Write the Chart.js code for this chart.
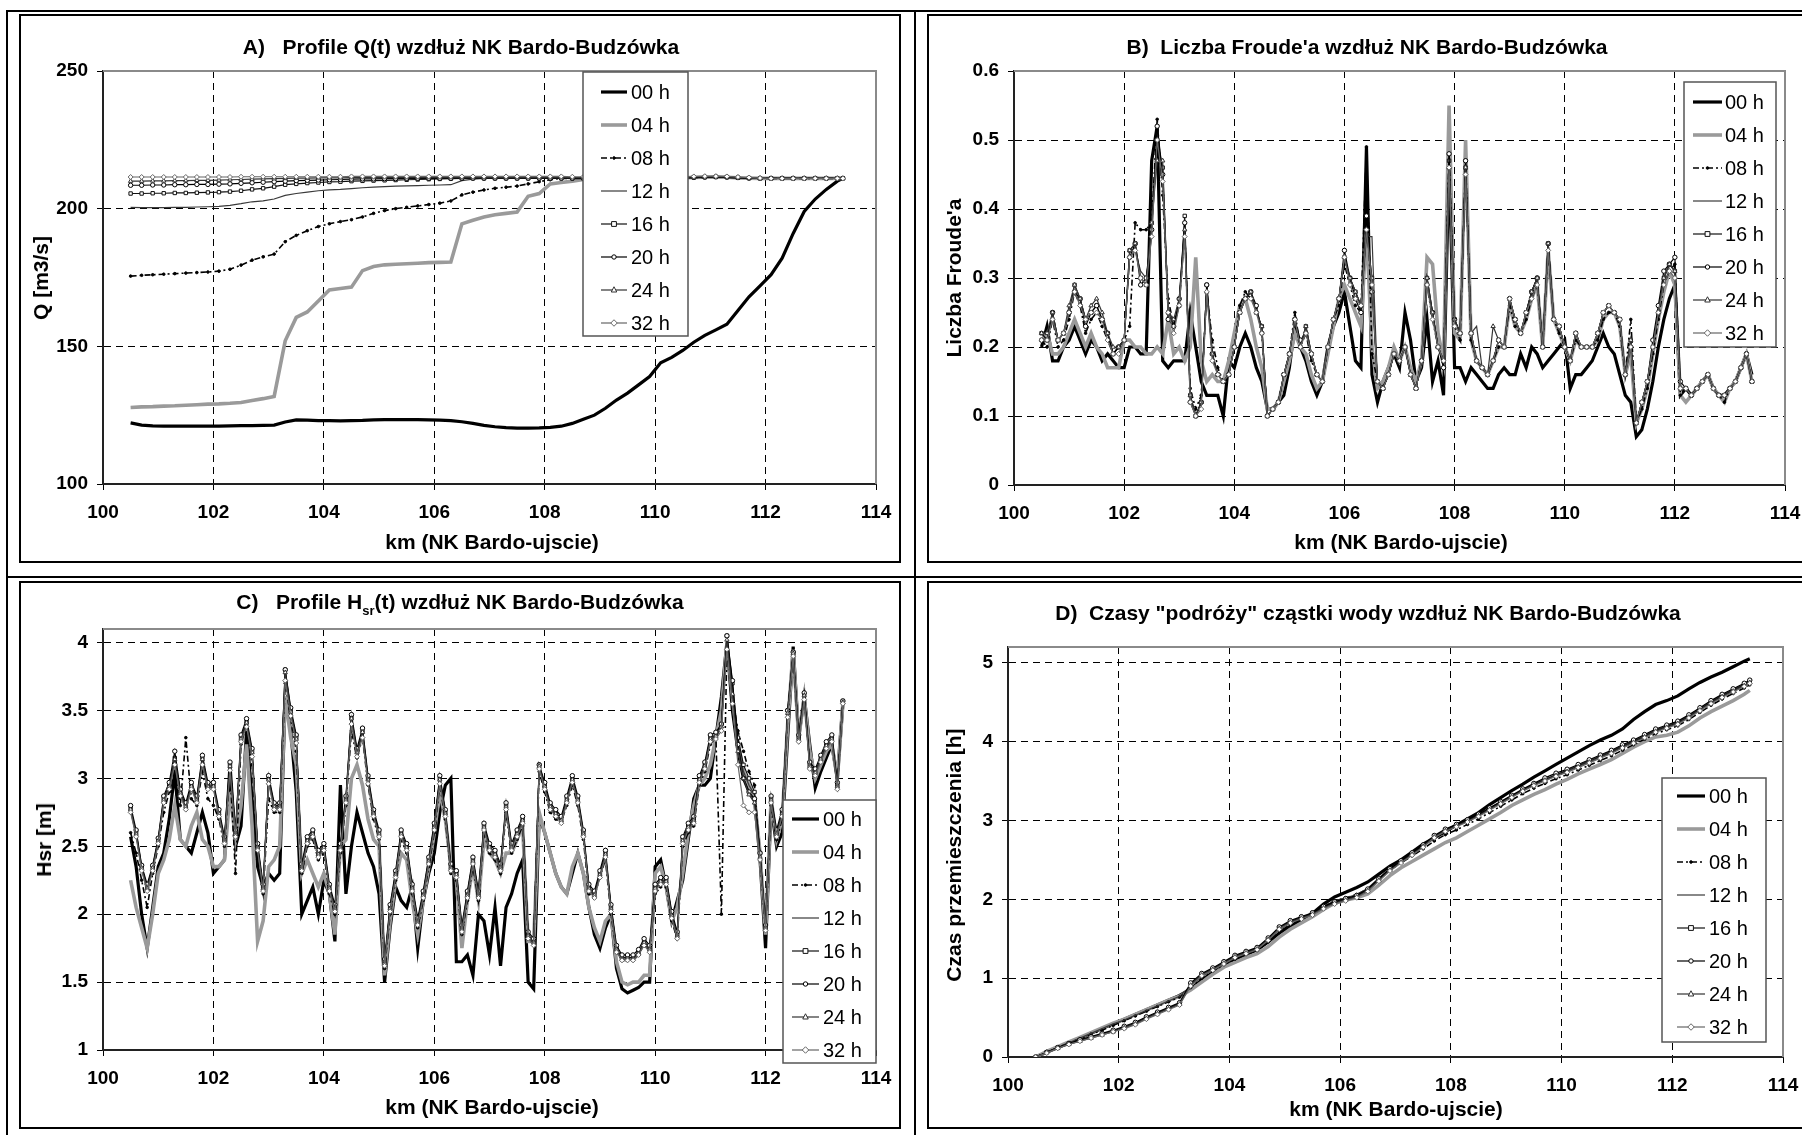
<!DOCTYPE html>
<html>
<head>
<meta charset="utf-8">
<script src="https://cdn.jsdelivr.net/npm/chart.js@4/dist/chart.umd.min.js"></script>
<style>
body{margin:0;background:#fff;}
#page{position:relative;width:1802px;height:1135px;overflow:hidden;background:#fff;font-family:"Liberation Sans",Arial,sans-serif;color:#000;}
.frame{position:absolute;border:2px solid #000;box-sizing:border-box;}
.bar{position:absolute;background:#000;}
canvas{position:absolute;}
.t{position:absolute;font-weight:bold;font-size:21px;white-space:pre;transform:translate(-50%,-50%);}
.yt{transform:translate(-50%,-50%) rotate(-90deg);}
sub{font-size:13px;}
</style>
</head>
<body>
<div id="page">
  <div class="frame" style="left:6px;top:10px;width:1806px;height:1140px;"></div>
  <div class="bar" style="left:914px;top:10px;width:2px;height:1130px;"></div>
  <div class="bar" style="left:6px;top:576px;width:1800px;height:2px;"></div>
  <div class="frame" style="left:19px;top:14px;width:882px;height:549px;"></div>
  <div class="frame" style="left:927px;top:14px;width:880px;height:549px;"></div>
  <div class="frame" style="left:19px;top:581px;width:882px;height:548px;"></div>
  <div class="frame" style="left:927px;top:581px;width:880px;height:548px;"></div>

  <canvas id="cA" width="878" height="546" style="left:21px;top:16px;"></canvas>
  <canvas id="cB" width="873" height="546" style="left:929px;top:16px;"></canvas>
  <canvas id="cC" width="878" height="544" style="left:21px;top:583px;"></canvas>
  <canvas id="cD" width="873" height="544" style="left:929px;top:583px;"></canvas>

  <div class="t" style="left:461px;top:47px;">A)   Profile Q(t) wzdłuż NK Bardo-Budzówka</div>
  <div class="t" style="left:1367px;top:47px;">B)  Liczba Froude'a wzdłuż NK Bardo-Budzówka</div>
  <div class="t" style="left:460px;top:604px;">C)   Profile H<sub>sr</sub>(t) wzdłuż NK Bardo-Budzówka</div>
  <div class="t" style="left:1368px;top:613px;">D)  Czasy "podróży" cząstki wody wzdłuż NK Bardo-Budzówka</div>

  <div class="t yt" style="left:41px;top:278px;">Q [m3/s]</div>
  <div class="t yt" style="left:954px;top:278px;">Liczba Froude'a</div>
  <div class="t yt" style="left:44px;top:840px;">Hsr [m]</div>
  <div class="t yt" style="left:954px;top:855px;">Czas przemieszczenia [h]</div>

  <div class="t" style="left:492px;top:542px;">km (NK Bardo-ujscie)</div>
  <div class="t" style="left:1401px;top:542px;">km (NK Bardo-ujscie)</div>
  <div class="t" style="left:492px;top:1107px;">km (NK Bardo-ujscie)</div>
  <div class="t" style="left:1396px;top:1109px;">km (NK Bardo-ujscie)</div>
</div>
<script>
// ---- km positions ----
const kmCoarse = [
  100.5,100.7,100.9,101.1,101.3,101.5,101.7,101.9,102.1,102.3,
  102.5,102.7,102.9,103.1,103.3,103.5,103.7,103.9,104.1,104.3,
  104.5,104.7,104.9,105.1,105.3,105.5,105.7,105.9,106.1,106.3,
  106.5,106.7,106.9,107.1,107.3,107.5,107.7,107.9,108.1,108.3,
  108.5,108.7,108.9,109.1,109.3,109.5,109.7,109.9,110.1,110.3,
  110.5,110.7,110.9,111.1,111.3,111.5,111.7,111.9,112.1,112.3,
  112.5,112.7,112.9,113.1,113.3,113.4];
const kmFine = [
  100.5,100.6,100.7,100.8,100.9,101.0,101.1,101.2,101.3,101.4,
  101.5,101.6,101.7,101.8,101.9,102.0,102.1,102.2,102.3,102.4,
  102.5,102.6,102.7,102.8,102.9,103.0,103.1,103.2,103.3,103.4,
  103.5,103.6,103.7,103.8,103.9,104.0,104.1,104.2,104.3,104.4,
  104.5,104.6,104.7,104.8,104.9,105.0,105.1,105.2,105.3,105.4,
  105.5,105.6,105.7,105.8,105.9,106.0,106.1,106.2,106.3,106.4,
  106.5,106.6,106.7,106.8,106.9,107.0,107.1,107.2,107.3,107.4,
  107.5,107.6,107.7,107.8,107.9,108.0,108.1,108.2,108.3,108.4,
  108.5,108.6,108.7,108.8,108.9,109.0,109.1,109.2,109.3,109.4,
  109.5,109.6,109.7,109.8,109.9,110.0,110.1,110.2,110.3,110.4,
  110.5,110.6,110.7,110.8,110.9,111.0,111.1,111.2,111.3,111.4,
  111.5,111.6,111.7,111.8,111.9,112.0,112.1,112.2,112.3,112.4,
  112.5,112.6,112.7,112.8,112.9,113.0,113.1,113.2,113.3,113.4];

// ---- A) Q [m3/s] ----
const q00 = [122.2,121.4,121.1,121.0,121.0,121.0,121.0,121.0,121.0,121.1,
  121.2,121.2,121.3,121.4,122.5,123.3,123.2,123.0,123.0,122.9,
  123.0,123.1,123.3,123.4,123.4,123.4,123.4,123.3,123.2,123.0,
  122.6,122.0,121.3,120.8,120.5,120.3,120.3,120.4,120.6,121.0,
  122.0,123.5,125.0,127.5,130.5,133.0,136.0,139.0,144.0,146.0,
  148.5,151.5,154.0,156.0,158.0,163.0,168.0,172.0,176.0,182.0,
  191.0,199.0,203.5,207.0,210.0,211.0];
const q04 = [127.8,128.0,128.1,128.3,128.4,128.6,128.8,129.0,129.1,129.3,
  129.6,130.3,131.0,131.8,152.0,160.5,162.5,166.5,170.5,171.0,
  171.5,177.5,179.0,179.6,179.8,180.0,180.2,180.4,180.5,180.6,
  194.5,195.8,197.0,197.8,198.3,198.8,204.5,205.5,209.0,209.5,
  210.0,210.6,211.0,211.0,211.0,211.0,211.0,211.0,211.0,211.0,
  211.2,211.3,211.4,211.5,211.4,211.2,211.1,211.0,211.0,211.0,
  211.0,211.0,211.0,211.0,211.0,211.0];
const q08 = [175.5,175.8,176.0,176.2,176.4,176.6,176.8,177.0,177.3,178.0,
  179.5,181.3,182.5,183.5,188.0,190.3,192.0,193.5,194.5,195.3,
  196.0,197.0,198.3,199.3,200.0,200.5,201.0,201.5,202.0,202.8,
  205.0,206.0,206.8,207.4,207.8,208.2,209.0,209.8,210.5,211.0,
  211.0,211.0,211.0,211.0,211.0,211.0,211.0,211.0,211.0,211.0,
  211.2,211.3,211.4,211.5,211.4,211.2,211.1,211.0,211.0,211.0,
  211.0,211.0,211.0,211.0,211.0,211.0];
const q12 = [200.5,200.4,200.4,200.4,200.5,200.5,200.6,200.7,200.8,201.2,
  201.8,202.5,202.8,203.5,204.8,205.5,206.0,206.5,206.8,207.0,
  207.3,207.6,207.8,208.0,208.2,208.3,208.4,208.5,208.6,208.7,
  210.2,210.7,211.0,211.0,211.0,211.0,211.0,211.0,211.0,211.0,
  211.0,211.0,211.0,211.0,211.0,211.0,211.0,211.0,211.0,211.0,
  211.2,211.3,211.4,211.5,211.4,211.2,211.1,211.0,211.0,211.0,
  211.0,211.0,211.0,211.0,211.0,211.0];
const q16 = [205.5,205.5,205.6,205.6,205.7,205.7,205.8,205.9,206.0,206.2,
  206.5,207.0,207.4,208.0,208.7,209.0,209.3,209.5,209.7,209.8,
  210.0,210.1,210.2,210.3,210.4,210.5,210.6,210.7,210.8,210.9,
  211.0,211.0,211.0,211.0,211.0,211.0,211.0,211.0,211.0,211.0,
  211.0,211.0,211.0,211.0,211.0,211.0,211.0,211.0,211.0,211.0,
  211.2,211.3,211.4,211.5,211.4,211.2,211.1,211.0,211.0,211.0,
  211.0,211.0,211.0,211.0,211.0,211.0];
const q20 = [208.5,208.5,208.6,208.6,208.7,208.7,208.8,208.8,208.9,209.0,
  209.2,209.4,209.6,209.8,210.0,210.2,210.3,210.4,210.5,210.6,
  210.7,210.8,210.8,210.9,210.9,211.0,211.0,211.0,211.0,211.0,
  211.1,211.1,211.1,211.1,211.1,211.1,211.1,211.1,211.1,211.1,
  211.1,211.1,211.1,211.1,211.1,211.1,211.1,211.1,211.1,211.1,
  211.3,211.4,211.5,211.6,211.5,211.3,211.1,211.0,211.0,211.0,
  211.0,211.0,211.0,211.0,211.0,211.0];
const q24 = [210.0,210.0,210.1,210.1,210.2,210.2,210.3,210.3,210.4,210.5,
  210.6,210.7,210.8,210.9,211.0,211.1,211.1,211.2,211.2,211.2,
  211.3,211.3,211.3,211.3,211.3,211.3,211.3,211.3,211.3,211.3,
  211.3,211.3,211.3,211.3,211.3,211.3,211.3,211.3,211.3,211.3,
  211.3,211.3,211.3,211.3,211.3,211.3,211.3,211.3,211.3,211.3,
  211.4,211.5,211.6,211.7,211.6,211.4,211.2,211.1,211.0,211.0,
  211.0,211.0,211.0,211.0,211.0,211.0];
const q32 = [211.5,211.5,211.5,211.5,211.5,211.5,211.5,211.5,211.5,211.5,
  211.6,211.6,211.6,211.6,211.6,211.6,211.6,211.6,211.6,211.6,
  211.7,211.7,211.7,211.7,211.7,211.7,211.7,211.7,211.7,211.7,
  211.7,211.7,211.7,211.7,211.7,211.7,211.7,211.7,211.7,211.7,
  211.6,211.6,211.6,211.6,211.6,211.6,211.6,211.6,211.6,211.6,
  211.6,211.7,211.8,211.8,211.7,211.5,211.3,211.1,211.0,211.0,
  211.0,211.0,211.0,211.0,211.0,211.0];

// ---- B) Froude number ----
const fr00 = [0.20,0.23,0.18,0.18,0.20,0.21,0.23,0.21,0.19,0.21,
  0.20,0.18,0.19,0.18,0.17,0.17,0.20,0.20,0.19,0.19,
  0.47,0.52,0.18,0.17,0.18,0.18,0.18,0.25,0.20,0.15,
  0.13,0.13,0.13,0.10,0.18,0.17,0.20,0.22,0.20,0.17,
  0.15,0.11,0.11,0.12,0.13,0.17,0.23,0.20,0.18,0.15,
  0.13,0.15,0.20,0.23,0.25,0.28,0.23,0.18,0.17,0.49,
  0.16,0.12,0.15,0.17,0.19,0.17,0.25,0.21,0.15,0.17,
  0.24,0.15,0.18,0.13,0.47,0.17,0.17,0.15,0.17,0.16,
  0.15,0.14,0.14,0.16,0.17,0.16,0.16,0.19,0.17,0.20,
  0.19,0.17,0.18,0.19,0.20,0.21,0.14,0.16,0.16,0.17,
  0.18,0.20,0.22,0.20,0.19,0.16,0.13,0.12,0.07,0.08,
  0.11,0.15,0.20,0.24,0.27,0.29,0.13,0.14,0.13,0.14,
  0.15,0.16,0.14,0.13,0.13,0.14,0.15,0.17,0.19,0.16];
const fr04 = [0.21,0.22,0.19,0.19,0.20,0.22,0.24,0.22,0.20,0.22,
  0.20,0.19,0.17,0.17,0.17,0.21,0.21,0.20,0.20,0.19,
  0.19,0.20,0.19,0.24,0.19,0.20,0.18,0.20,0.33,0.18,
  0.15,0.16,0.15,0.15,0.18,0.22,0.26,0.27,0.24,0.20,
  0.17,0.11,0.11,0.12,0.15,0.18,0.22,0.20,0.19,0.16,
  0.14,0.15,0.19,0.23,0.27,0.29,0.27,0.25,0.23,0.37,
  0.20,0.14,0.15,0.17,0.20,0.18,0.20,0.17,0.15,0.18,
  0.33,0.32,0.22,0.18,0.55,0.22,0.21,0.50,0.21,0.18,
  0.17,0.16,0.18,0.20,0.20,0.26,0.23,0.22,0.24,0.27,
  0.29,0.20,0.34,0.24,0.22,0.20,0.18,0.21,0.20,0.20,
  0.20,0.21,0.24,0.25,0.25,0.23,0.16,0.19,0.09,0.11,
  0.14,0.19,0.24,0.28,0.31,0.29,0.13,0.12,0.13,0.14,
  0.15,0.16,0.14,0.13,0.12,0.14,0.15,0.17,0.19,0.15];
const fr08 = [0.21,0.20,0.24,0.20,0.21,0.24,0.28,0.26,0.22,0.24,
  0.25,0.23,0.21,0.19,0.20,0.21,0.23,0.38,0.37,0.37,
  0.38,0.53,0.42,0.27,0.23,0.26,0.37,0.14,0.11,0.13,
  0.28,0.21,0.17,0.15,0.16,0.20,0.26,0.28,0.27,0.26,
  0.22,0.10,0.11,0.12,0.16,0.19,0.25,0.20,0.22,0.18,
  0.16,0.15,0.20,0.24,0.26,0.32,0.29,0.26,0.25,0.49,
  0.19,0.15,0.14,0.16,0.19,0.18,0.20,0.16,0.14,0.18,
  0.29,0.24,0.20,0.18,0.48,0.23,0.21,0.47,0.21,0.18,
  0.17,0.16,0.18,0.20,0.20,0.26,0.23,0.22,0.24,0.27,
  0.29,0.20,0.34,0.24,0.22,0.20,0.18,0.21,0.20,0.20,
  0.20,0.21,0.24,0.25,0.25,0.23,0.16,0.24,0.09,0.11,
  0.14,0.19,0.24,0.29,0.31,0.32,0.13,0.14,0.13,0.14,
  0.15,0.16,0.14,0.13,0.12,0.14,0.15,0.17,0.19,0.15];
const fr12 = [0.22,0.21,0.24,0.21,0.22,0.25,0.28,0.27,0.24,0.25,
  0.25,0.24,0.22,0.19,0.20,0.21,0.33,0.34,0.31,0.30,
  0.36,0.51,0.45,0.26,0.23,0.26,0.38,0.13,0.10,0.12,
  0.29,0.19,0.16,0.15,0.16,0.20,0.25,0.27,0.28,0.25,
  0.23,0.10,0.11,0.12,0.16,0.19,0.24,0.20,0.23,0.19,
  0.16,0.15,0.20,0.24,0.27,0.33,0.30,0.28,0.26,0.36,
  0.36,0.15,0.14,0.16,0.19,0.18,0.20,0.16,0.14,0.18,
  0.30,0.25,0.20,0.18,0.46,0.24,0.22,0.46,0.22,0.23,
  0.17,0.16,0.18,0.21,0.20,0.27,0.24,0.22,0.25,0.28,
  0.30,0.20,0.35,0.24,0.23,0.20,0.18,0.22,0.20,0.20,
  0.20,0.22,0.25,0.26,0.25,0.24,0.16,0.21,0.09,0.12,
  0.15,0.20,0.25,0.30,0.32,0.31,0.14,0.14,0.13,0.14,
  0.15,0.16,0.14,0.13,0.13,0.14,0.15,0.17,0.19,0.15];
const fr16 = [0.22,0.21,0.25,0.21,0.22,0.25,0.29,0.27,0.24,0.25,
  0.26,0.24,0.22,0.19,0.20,0.21,0.34,0.35,0.30,0.29,
  0.38,0.50,0.46,0.25,0.23,0.26,0.39,0.13,0.10,0.12,
  0.29,0.19,0.16,0.15,0.16,0.20,0.25,0.27,0.28,0.25,
  0.23,0.10,0.11,0.12,0.16,0.19,0.24,0.20,0.23,0.19,
  0.16,0.15,0.20,0.24,0.27,0.33,0.30,0.28,0.26,0.37,
  0.30,0.15,0.14,0.16,0.19,0.18,0.20,0.16,0.14,0.18,
  0.30,0.25,0.20,0.18,0.47,0.24,0.22,0.46,0.22,0.18,
  0.17,0.16,0.18,0.21,0.20,0.27,0.24,0.22,0.25,0.28,
  0.30,0.20,0.35,0.24,0.23,0.20,0.18,0.22,0.20,0.20,
  0.20,0.22,0.25,0.26,0.25,0.24,0.16,0.21,0.09,0.12,
  0.15,0.20,0.25,0.30,0.32,0.31,0.14,0.14,0.13,0.14,
  0.15,0.16,0.14,0.13,0.13,0.14,0.15,0.17,0.19,0.15];
const fr20 = [0.21,0.21,0.25,0.21,0.22,0.25,0.28,0.27,0.23,0.25,
  0.26,0.24,0.22,0.19,0.20,0.21,0.33,0.35,0.29,0.30,
  0.37,0.52,0.45,0.24,0.23,0.27,0.38,0.12,0.10,0.12,
  0.29,0.19,0.16,0.15,0.16,0.20,0.25,0.27,0.28,0.26,
  0.22,0.10,0.11,0.12,0.16,0.19,0.24,0.21,0.22,0.19,
  0.16,0.15,0.20,0.24,0.27,0.34,0.30,0.27,0.25,0.39,
  0.28,0.15,0.14,0.16,0.19,0.18,0.20,0.16,0.14,0.18,
  0.29,0.25,0.20,0.17,0.48,0.24,0.22,0.47,0.22,0.18,
  0.17,0.16,0.18,0.21,0.20,0.27,0.24,0.22,0.25,0.28,
  0.30,0.20,0.35,0.24,0.23,0.20,0.18,0.22,0.20,0.20,
  0.20,0.22,0.25,0.26,0.25,0.24,0.16,0.20,0.09,0.12,
  0.15,0.21,0.26,0.31,0.32,0.33,0.15,0.14,0.13,0.14,
  0.15,0.16,0.14,0.13,0.13,0.14,0.15,0.17,0.19,0.15];
const fr24 = [0.22,0.22,0.25,0.21,0.22,0.26,0.29,0.27,0.24,0.26,
  0.27,0.25,0.22,0.20,0.20,0.21,0.34,0.35,0.30,0.29,
  0.38,0.47,0.47,0.25,0.24,0.27,0.37,0.13,0.10,0.12,
  0.28,0.19,0.16,0.15,0.16,0.20,0.25,0.27,0.28,0.25,
  0.23,0.10,0.11,0.12,0.16,0.19,0.24,0.20,0.23,0.19,
  0.16,0.15,0.20,0.24,0.27,0.33,0.30,0.28,0.26,0.37,
  0.30,0.15,0.14,0.16,0.19,0.18,0.20,0.16,0.14,0.18,
  0.30,0.25,0.20,0.18,0.46,0.24,0.22,0.46,0.22,0.18,
  0.17,0.16,0.23,0.21,0.20,0.27,0.24,0.22,0.25,0.28,
  0.30,0.20,0.35,0.24,0.23,0.20,0.18,0.22,0.20,0.20,
  0.20,0.22,0.25,0.26,0.25,0.24,0.16,0.21,0.09,0.12,
  0.15,0.20,0.25,0.30,0.32,0.31,0.14,0.14,0.13,0.14,
  0.15,0.16,0.14,0.13,0.13,0.14,0.15,0.17,0.19,0.15];
const fr32 = [0.21,0.21,0.24,0.21,0.22,0.25,0.28,0.26,0.24,0.25,
  0.25,0.24,0.21,0.19,0.19,0.21,0.33,0.34,0.30,0.29,
  0.36,0.50,0.44,0.25,0.22,0.26,0.36,0.12,0.10,0.11,
  0.28,0.18,0.16,0.15,0.16,0.20,0.25,0.27,0.27,0.25,
  0.22,0.10,0.11,0.12,0.16,0.19,0.24,0.20,0.22,0.19,
  0.16,0.15,0.20,0.24,0.27,0.33,0.29,0.27,0.26,0.37,
  0.29,0.15,0.14,0.16,0.19,0.18,0.20,0.16,0.14,0.18,
  0.29,0.24,0.20,0.18,0.46,0.23,0.22,0.45,0.22,0.18,
  0.17,0.16,0.18,0.21,0.20,0.27,0.24,0.22,0.25,0.27,
  0.29,0.20,0.34,0.24,0.23,0.20,0.18,0.22,0.20,0.20,
  0.20,0.22,0.25,0.26,0.25,0.24,0.16,0.20,0.09,0.12,
  0.15,0.20,0.25,0.29,0.31,0.30,0.14,0.14,0.13,0.14,
  0.15,0.16,0.14,0.13,0.13,0.14,0.15,0.17,0.19,0.15];

// ---- C) Hsr [m] ----
const h00 = [2.57,2.35,2.0,1.75,2.05,2.35,2.45,2.7,3.05,2.55,
  2.5,2.45,2.6,2.75,2.6,2.3,2.35,2.4,3.1,2.5,
  2.65,3.35,2.85,2.35,2.2,2.3,2.25,2.3,3.6,3.35,
  2.9,2.0,2.1,2.2,2.0,2.25,2.15,1.8,2.95,2.15,
  2.5,2.75,2.6,2.45,2.35,2.15,1.5,1.9,2.2,2.1,
  2.05,2.2,1.75,2.1,2.3,2.45,2.75,2.95,3.0,1.65,
  1.65,1.7,1.55,2.0,1.95,1.7,2.05,1.62,2.05,2.15,
  2.3,2.4,1.5,1.45,2.72,2.6,2.45,2.3,2.2,2.15,
  2.3,2.45,2.3,2.05,1.85,1.75,1.9,2.0,1.6,1.45,
  1.42,1.44,1.46,1.5,1.5,2.35,2.4,2.2,1.95,2.1,
  2.25,2.55,2.85,2.95,2.95,3.0,3.3,3.6,4.0,3.5,
  3.2,3.0,2.9,2.85,2.4,1.75,2.8,2.5,2.6,3.3,
  3.97,3.3,3.6,3.25,2.93,3.05,3.15,3.25,3.0,3.55];
const h04 = [2.25,2.05,1.9,1.75,2.0,2.3,2.4,2.55,2.8,2.55,
  2.5,2.65,2.75,2.55,2.5,2.35,2.35,2.4,2.9,2.55,
  2.8,3.25,2.65,1.8,1.95,2.35,2.4,2.5,3.6,3.3,
  3.1,2.3,2.4,2.3,2.2,2.3,2.15,1.85,2.5,2.55,
  3.0,3.1,2.95,2.7,2.55,2.5,1.55,1.95,2.25,2.45,
  2.4,2.1,1.85,2.1,2.35,2.6,2.9,2.7,2.35,2.25,
  1.75,2.1,2.35,2.1,2.55,2.45,2.4,2.3,2.45,2.45,
  2.55,2.65,1.8,1.8,2.75,2.6,2.45,2.3,2.2,2.15,
  2.35,2.45,2.3,2.05,1.9,1.8,1.95,2.0,1.65,1.5,
  1.48,1.5,1.5,1.55,1.55,2.3,2.35,2.2,1.95,2.05,
  2.3,2.6,2.8,2.95,3.0,3.1,3.3,3.5,4.0,3.6,
  3.25,3.05,2.95,2.85,2.45,1.85,2.85,2.55,2.7,3.4,
  3.95,3.3,3.6,3.2,3.0,3.1,3.2,3.25,3.0,3.55];
const h08 = [2.6,2.45,2.25,2.05,2.3,2.5,2.75,2.9,3.05,2.8,
  3.3,2.85,2.8,3.05,2.85,2.8,2.7,2.5,3.05,2.3,
  3.25,3.4,3.1,2.4,2.15,2.85,2.75,2.75,3.7,3.45,
  3.2,2.3,2.5,2.55,2.4,2.45,2.15,2.0,2.45,2.8,
  3.35,3.15,3.3,2.95,2.7,2.55,1.6,2.0,2.25,2.55,
  2.45,2.15,1.9,2.1,2.35,2.6,2.95,2.7,2.3,2.25,
  1.85,2.1,2.35,2.1,2.6,2.45,2.4,2.3,2.75,2.45,
  2.55,2.65,1.82,1.78,3.05,2.9,2.75,2.7,2.68,2.8,
  2.95,2.8,2.55,2.15,2.12,2.28,2.4,2.0,1.72,1.66,
  1.66,1.66,1.7,1.78,1.72,2.15,2.2,2.2,1.95,1.82,
  2.5,2.6,2.65,2.95,3.05,3.25,3.3,2.0,3.95,3.6,
  3.35,3.2,3.05,2.95,2.4,1.88,2.8,2.55,2.7,3.45,
  3.9,3.3,3.6,3.1,3.05,3.15,3.22,3.28,2.95,3.55];
const h12 = [2.76,2.58,2.33,2.18,2.33,2.53,2.83,2.93,3.12,2.88,
  2.78,2.93,2.83,3.12,2.93,2.93,2.73,2.53,3.08,2.58,
  3.28,3.4,3.18,2.48,2.18,2.98,2.78,2.78,3.75,3.48,
  3.28,2.33,2.53,2.58,2.43,2.48,2.18,2.03,2.48,2.83,
  3.43,3.18,3.33,2.98,2.73,2.58,1.63,2.03,2.28,2.58,
  2.48,2.18,1.93,2.13,2.38,2.63,2.98,2.73,2.33,2.28,
  1.88,2.13,2.38,2.13,2.63,2.48,2.43,2.33,2.78,2.48,
  2.58,2.68,1.83,1.78,3.08,2.93,2.78,2.73,2.68,2.83,
  2.98,2.83,2.58,2.18,2.13,2.28,2.43,2.03,1.73,1.66,
  1.66,1.66,1.7,1.78,1.73,2.18,2.23,2.23,1.98,1.83,
  2.53,2.63,2.68,2.98,3.08,3.28,3.3,3.38,4.0,3.65,
  3.25,3.05,2.95,2.88,2.43,1.88,2.83,2.58,2.73,3.48,
  3.9,3.28,3.6,3.08,3.03,3.13,3.23,3.28,2.93,3.55];
const h16 = [2.78,2.6,2.35,2.2,2.35,2.55,2.85,2.95,3.15,2.9,
  2.8,2.95,2.85,3.15,2.95,2.95,2.75,2.55,3.1,2.6,
  3.3,3.42,3.2,2.5,2.2,3.0,2.8,2.8,3.8,3.5,
  3.3,2.35,2.55,2.6,2.45,2.5,2.2,2.05,2.5,2.85,
  3.45,3.2,3.35,3.0,2.75,2.6,1.65,2.05,2.3,2.6,
  2.5,2.2,1.95,2.15,2.4,2.65,3.0,2.75,2.35,2.3,
  1.9,2.15,2.4,2.15,2.65,2.5,2.45,2.35,2.8,2.5,
  2.6,2.7,1.85,1.8,3.1,2.95,2.8,2.75,2.7,2.85,
  3.0,2.85,2.6,2.2,2.15,2.3,2.45,2.05,1.75,1.68,
  1.68,1.68,1.72,1.8,1.75,2.2,2.25,2.25,2.0,1.85,
  2.55,2.65,2.7,3.0,3.1,3.3,3.32,3.4,4.05,3.7,
  3.3,3.1,3.0,2.9,2.45,1.9,2.85,2.6,2.75,3.5,
  3.93,3.3,3.62,3.1,3.05,3.15,3.25,3.3,2.95,3.57];
const h20 = [2.8,2.62,2.36,2.22,2.36,2.56,2.87,2.97,3.2,2.92,
  2.82,2.97,2.87,3.17,2.97,2.97,2.77,2.57,3.12,2.62,
  3.32,3.44,3.22,2.52,2.22,3.02,2.82,2.82,3.8,3.52,
  3.32,2.37,2.57,2.62,2.47,2.52,2.22,2.07,2.52,2.87,
  3.47,3.22,3.37,3.02,2.77,2.62,1.67,2.07,2.32,2.62,
  2.52,2.22,1.97,2.17,2.42,2.67,3.02,2.77,2.37,2.32,
  1.92,2.17,2.42,2.17,2.67,2.52,2.47,2.37,2.82,2.52,
  2.62,2.72,1.87,1.82,3.1,2.97,2.82,2.77,2.72,2.87,
  3.02,2.87,2.62,2.22,2.17,2.32,2.47,2.07,1.77,1.7,
  1.7,1.7,1.74,1.82,1.77,2.22,2.27,2.27,2.02,1.87,
  2.57,2.67,2.72,3.02,3.12,3.32,3.34,3.4,4.05,3.72,
  3.25,3.0,2.9,2.85,2.45,1.92,2.87,2.62,2.77,3.5,
  3.93,3.32,3.63,3.12,3.07,3.17,3.27,3.32,2.97,3.57];
const h24 = [2.77,2.59,2.34,2.19,2.34,2.54,2.84,2.94,3.14,2.89,
  2.79,2.94,2.84,3.14,2.94,2.94,2.74,2.54,3.09,2.59,
  3.29,3.41,3.19,2.49,2.19,2.99,2.79,2.79,3.78,3.49,
  3.29,2.34,2.54,2.59,2.44,2.49,2.19,2.04,2.49,2.84,
  3.44,3.19,3.34,2.99,2.74,2.59,1.64,2.04,2.29,2.59,
  2.49,2.19,1.94,2.14,2.39,2.64,2.99,2.74,2.34,2.29,
  1.89,2.14,2.39,2.14,2.64,2.49,2.44,2.34,2.79,2.49,
  2.59,2.69,1.84,1.79,3.09,2.94,2.79,2.74,2.69,2.84,
  2.99,2.84,2.59,2.19,2.14,2.29,2.44,2.04,1.74,1.67,
  1.67,1.67,1.71,1.79,1.74,2.19,2.24,2.24,1.99,1.84,
  2.54,2.64,2.69,2.99,3.09,3.29,3.31,3.38,4.02,3.62,
  3.2,3.0,2.88,2.82,2.42,1.9,2.84,2.59,2.74,3.48,
  3.92,3.29,3.61,3.09,3.04,3.14,3.24,3.29,2.94,3.56];
const h32 = [2.75,2.57,2.32,2.17,2.32,2.52,2.82,2.92,3.1,2.87,
  2.77,2.92,2.82,3.1,2.92,2.92,2.72,2.52,3.06,2.57,
  3.27,3.38,3.16,2.47,2.17,2.96,2.77,2.77,3.72,3.46,
  3.26,2.32,2.52,2.57,2.42,2.47,2.17,2.02,2.47,2.82,
  3.4,3.16,3.3,2.96,2.72,2.57,1.62,2.02,2.27,2.57,
  2.47,2.17,1.92,2.12,2.37,2.62,2.96,2.72,2.32,2.27,
  1.87,2.12,2.37,2.12,2.62,2.47,2.42,2.32,2.77,2.47,
  2.57,2.67,1.82,1.77,3.07,2.92,2.77,2.72,2.67,2.82,
  2.97,2.82,2.57,2.17,2.12,2.27,2.42,2.02,1.72,1.66,
  1.66,1.66,1.7,1.77,1.72,2.17,2.22,2.22,1.97,1.82,
  2.52,2.62,2.67,2.97,3.07,3.27,3.29,3.35,3.95,3.55,
  3.1,2.8,2.75,2.75,2.4,1.88,2.82,2.57,2.72,3.45,
  3.9,3.27,3.58,3.07,3.02,3.12,3.22,3.27,2.92,3.55];

// ---- D) travel time [h] ----
const t00 = [0,0.06,0.12,0.18,0.24,0.30,0.36,0.42,0.48,0.54,
  0.60,0.66,0.72,0.78,0.86,0.98,1.07,1.16,1.24,1.30,
  1.36,1.46,1.57,1.66,1.74,1.82,1.94,2.03,2.09,2.15,
  2.22,2.32,2.42,2.50,2.60,2.70,2.78,2.86,2.94,3.02,
  3.10,3.20,3.29,3.38,3.46,3.55,3.63,3.71,3.79,3.87,
  3.95,4.02,4.08,4.16,4.28,4.38,4.47,4.52,4.58,4.67,
  4.75,4.82,4.88,4.95,5.02,5.05];
const t04 = [0,0.07,0.13,0.19,0.25,0.31,0.37,0.43,0.48,0.54,
  0.60,0.66,0.72,0.77,0.85,0.95,1.05,1.14,1.20,1.26,
  1.31,1.40,1.52,1.62,1.70,1.78,1.87,1.95,1.99,2.02,
  2.07,2.18,2.30,2.40,2.48,2.56,2.64,2.72,2.78,2.86,
  2.94,3.02,3.10,3.19,3.26,3.33,3.39,3.46,3.52,3.59,
  3.65,3.71,3.77,3.85,3.93,4.00,4.06,4.08,4.12,4.20,
  4.30,4.38,4.45,4.52,4.60,4.65];
const t08 = [0,0.06,0.12,0.18,0.23,0.29,0.34,0.40,0.46,0.52,
  0.58,0.64,0.70,0.76,0.88,1.00,1.09,1.17,1.24,1.30,
  1.35,1.46,1.59,1.68,1.75,1.82,1.91,1.98,2.02,2.06,
  2.13,2.25,2.37,2.46,2.55,2.64,2.74,2.82,2.88,2.95,
  3.02,3.10,3.18,3.26,3.34,3.41,3.47,3.53,3.58,3.64,
  3.70,3.76,3.82,3.89,3.96,4.03,4.10,4.15,4.20,4.28,
  4.37,4.46,4.54,4.61,4.68,4.72];
const t12 = [0,0.06,0.12,0.18,0.24,0.30,0.36,0.42,0.47,0.53,
  0.59,0.65,0.71,0.77,0.90,1.02,1.10,1.18,1.26,1.32,
  1.37,1.48,1.61,1.70,1.76,1.82,1.91,1.98,2.02,2.06,
  2.14,2.27,2.39,2.49,2.58,2.68,2.79,2.87,2.93,3.00,
  3.07,3.15,3.23,3.31,3.39,3.46,3.52,3.58,3.64,3.70,
  3.76,3.82,3.88,3.95,4.01,4.08,4.15,4.20,4.25,4.33,
  4.42,4.51,4.59,4.66,4.73,4.77];
const t16 = [0,0.06,0.12,0.17,0.21,0.25,0.29,0.33,0.38,0.43,
  0.50,0.56,0.62,0.68,0.92,1.05,1.12,1.20,1.28,1.33,
  1.38,1.50,1.64,1.72,1.77,1.82,1.90,1.96,2.00,2.04,
  2.12,2.25,2.38,2.48,2.58,2.68,2.80,2.88,2.94,3.00,
  3.07,3.15,3.23,3.31,3.39,3.46,3.52,3.58,3.63,3.69,
  3.75,3.81,3.87,3.94,4.00,4.07,4.14,4.19,4.24,4.32,
  4.41,4.50,4.58,4.65,4.72,4.76];
const t20 = [0,0.06,0.12,0.17,0.22,0.26,0.30,0.34,0.39,0.44,
  0.51,0.57,0.63,0.69,0.94,1.06,1.13,1.21,1.29,1.34,
  1.39,1.51,1.65,1.73,1.78,1.83,1.91,1.97,2.01,2.05,
  2.13,2.26,2.39,2.49,2.59,2.69,2.81,2.89,2.95,3.01,
  3.08,3.16,3.24,3.32,3.40,3.47,3.54,3.60,3.65,3.71,
  3.77,3.83,3.89,3.96,4.02,4.09,4.16,4.21,4.26,4.34,
  4.43,4.52,4.60,4.67,4.74,4.78];
const t24 = [0,0.06,0.11,0.16,0.20,0.24,0.28,0.32,0.37,0.42,
  0.49,0.55,0.61,0.67,0.91,1.04,1.11,1.19,1.27,1.32,
  1.37,1.49,1.63,1.71,1.76,1.81,1.89,1.95,1.99,2.03,
  2.11,2.24,2.37,2.47,2.57,2.67,2.79,2.87,2.93,2.99,
  3.06,3.14,3.22,3.30,3.38,3.45,3.51,3.57,3.62,3.68,
  3.74,3.80,3.86,3.93,3.99,4.06,4.13,4.18,4.23,4.31,
  4.40,4.49,4.57,4.64,4.71,4.75];
const t32 = [0,0.05,0.11,0.16,0.20,0.24,0.28,0.32,0.36,0.41,
  0.48,0.54,0.60,0.66,0.90,1.03,1.10,1.18,1.26,1.31,
  1.36,1.48,1.62,1.70,1.75,1.80,1.88,1.94,1.98,2.02,
  2.10,2.23,2.36,2.46,2.56,2.66,2.78,2.86,2.92,2.98,
  3.05,3.13,3.21,3.29,3.37,3.44,3.50,3.56,3.61,3.67,
  3.73,3.79,3.85,3.92,3.98,4.05,4.12,4.17,4.22,4.30,
  4.39,4.48,4.56,4.63,4.70,4.74];

// ---- series look (same for all four panels) ----
const labels = ['00 h','04 h','08 h','12 h','16 h','20 h','24 h','32 h'];
const looks = [
  {color:'#000000', width:3.2},
  {color:'#9a9a9a', width:3.6},
  {color:'#000000', width:1.6, dash:[6,3,2,3], point:'circle', r:1.3, fill:'#000000'},
  {color:'#3a3a3a', width:1.2},
  {color:'#111111', width:1.2, point:'rect', r:2.4, fill:'#ffffff'},
  {color:'#000000', width:1.2, point:'circle', r:2.2, fill:'#ffffff'},
  {color:'#333333', width:1.2, point:'triangle', r:2.5, fill:'#ffffff'},
  {color:'#666666', width:1.2, point:'rectRot', r:2.5, fill:'#ffffff'}
];

Chart.defaults.font.family = '"Liberation Sans", Arial, sans-serif';
Chart.defaults.color = '#000';

function marker(ctx, lk, x, y) {
  if (!lk.point) return;
  const r = lk.r;
  ctx.save();
  ctx.setLineDash([]);
  ctx.lineWidth = 1;
  ctx.strokeStyle = lk.color;
  ctx.fillStyle = lk.fill;
  ctx.beginPath();
  if (lk.point === 'rect') ctx.rect(x - r, y - r, 2 * r, 2 * r);
  else if (lk.point === 'triangle') { ctx.moveTo(x, y - r * 1.3); ctx.lineTo(x + r * 1.1, y + r * 0.8); ctx.lineTo(x - r * 1.1, y + r * 0.8); ctx.closePath(); }
  else if (lk.point === 'rectRot') { ctx.moveTo(x, y - r * 1.3); ctx.lineTo(x + r * 1.3, y); ctx.lineTo(x, y + r * 1.3); ctx.lineTo(x - r * 1.3, y); ctx.closePath(); }
  else ctx.arc(x, y, r, 0, Math.PI * 2);
  ctx.fill();
  ctx.stroke();
  ctx.restore();
}

// grey top/right plot frame + boxed legend
const framePlugin = {
  id: 'boxLegend',
  beforeDatasetsDraw(chart) {
    const {ctx, chartArea: a} = chart;
    ctx.save();
    ctx.strokeStyle = '#8a8a8a';
    ctx.lineWidth = 2;
    ctx.beginPath();
    ctx.moveTo(a.left, a.top);
    ctx.lineTo(a.right, a.top);
    ctx.lineTo(a.right, a.bottom);
    ctx.stroke();
    ctx.restore();
  },
  afterDraw(chart, args, o) {
    const ctx = chart.ctx;
    ctx.save();
    ctx.fillStyle = '#fff';
    ctx.fillRect(o.x, o.y, o.w, o.h);
    ctx.strokeStyle = '#555';
    ctx.lineWidth = 1.5;
    ctx.strokeRect(o.x, o.y, o.w, o.h);
    ctx.font = '20px "Liberation Sans", Arial, sans-serif';
    ctx.textBaseline = 'middle';
    ctx.fillStyle = '#000';
    labels.forEach((lab, i) => {
      const lk = looks[i];
      const y = o.y + o.first + i * o.gap;
      ctx.save();
      ctx.strokeStyle = lk.color;
      ctx.lineWidth = lk.width;
      ctx.setLineDash(lk.dash || []);
      ctx.beginPath();
      ctx.moveTo(o.x + o.l1, y);
      ctx.lineTo(o.x + o.l2, y);
      ctx.stroke();
      ctx.restore();
      marker(ctx, lk, o.x + (o.l1 + o.l2) / 2, y);
      ctx.fillText(lab, o.x + o.tx, y + 1);
    });
    ctx.restore();
  }
};

function panel(id, km, series, yAxis, box) {
  const datasets = series.map((vals, i) => {
    const lk = looks[i];
    return {
      label: labels[i],
      data: km.map((x, j) => ({x: x, y: vals[j]})),
      borderColor: lk.color,
      borderWidth: lk.width,
      borderDash: lk.dash || [],
      pointStyle: lk.point || 'circle',
      pointRadius: lk.point ? lk.r : 0,
      pointBackgroundColor: lk.fill || lk.color,
      pointBorderColor: lk.color,
      pointBorderWidth: 1,
      tension: 0,
      fill: false,
      order: 8 - i
    };
  });
  return new Chart(document.getElementById(id), {
    type: 'line',
    data: {datasets: datasets},
    options: {
      animation: false,
      responsive: false,
      events: [],
      layout: {padding: {left: 0, right: box.padR, top: box.padT, bottom: 0}},
      plugins: {legend: {display: false}, tooltip: {enabled: false}, boxLegend: box},
      scales: {
        x: {
          type: 'linear', min: 100, max: 114,
          ticks: {stepSize: 2, font: {size: 19, weight: 'bold'}, padding: 11, maxRotation: 0},
          grid: {color: '#000', lineWidth: 1, tickLength: 6, tickColor: '#000'},
          border: {color: '#222', width: 2, dash: [7, 5]},
          afterFit: s => { s.height = box.xH; s.paddingLeft = 0; s.paddingRight = 0; }
        },
        y: Object.assign({
          type: 'linear',
          grid: {color: '#000', lineWidth: 1, tickLength: 6, tickColor: '#000'},
          border: {color: '#222', width: 2, dash: [7, 5]},
          afterFit: s => { s.width = box.yW; s.paddingTop = 0; s.paddingBottom = 0; }
        }, yAxis)
      }
    },
    plugins: [framePlugin]
  });
}

const tickFont = {size: 19, weight: 'bold'};

panel('cA', kmCoarse, [q00, q04, q08, q12, q16, q20, q24, q32],
  {min: 100, max: 250, ticks: {stepSize: 50, font: tickFont, padding: 9}},
  {padR: 23, padT: 55, xH: 78, yW: 82, x: 562, y: 56, w: 105, h: 264, first: 20, gap: 33, l1: 18, l2: 44, tx: 48});

panel('cB', kmFine, [fr00, fr04, fr08, fr12, fr16, fr20, fr24, fr32],
  {min: 0, max: 0.6, ticks: {stepSize: 0.1, font: tickFont, padding: 9,
    callback: v => (Math.abs(v) < 1e-9 ? '0' : v.toFixed(1))}},
  {padR: 17, padT: 55, xH: 77, yW: 85, x: 755, y: 66, w: 92, h: 265, first: 20, gap: 33, l1: 9, l2: 38, tx: 41});

panel('cC', kmFine, [h00, h04, h08, h12, h16, h20, h24, h32],
  {min: 1, max: 4.1, ticks: {stepSize: 0.5, includeBounds: false, font: tickFont, padding: 9,
    callback: v => String(Number(v.toFixed(1)))}},
  {padR: 23, padT: 46, xH: 77, yW: 82, x: 762, y: 217, w: 93, h: 263, first: 19, gap: 33, l1: 9, l2: 36, tx: 40});

panel('cD', kmCoarse, [t00, t04, t08, t12, t16, t20, t24, t32],
  {min: 0, max: 5.2, ticks: {stepSize: 1, includeBounds: false, font: tickFont, padding: 9}},
  {padR: 19, padT: 64, xH: 70, yW: 79, x: 733, y: 195, w: 104, h: 264, first: 18, gap: 33, l1: 15, l2: 43, tx: 47});
</script>
</body>
</html>
